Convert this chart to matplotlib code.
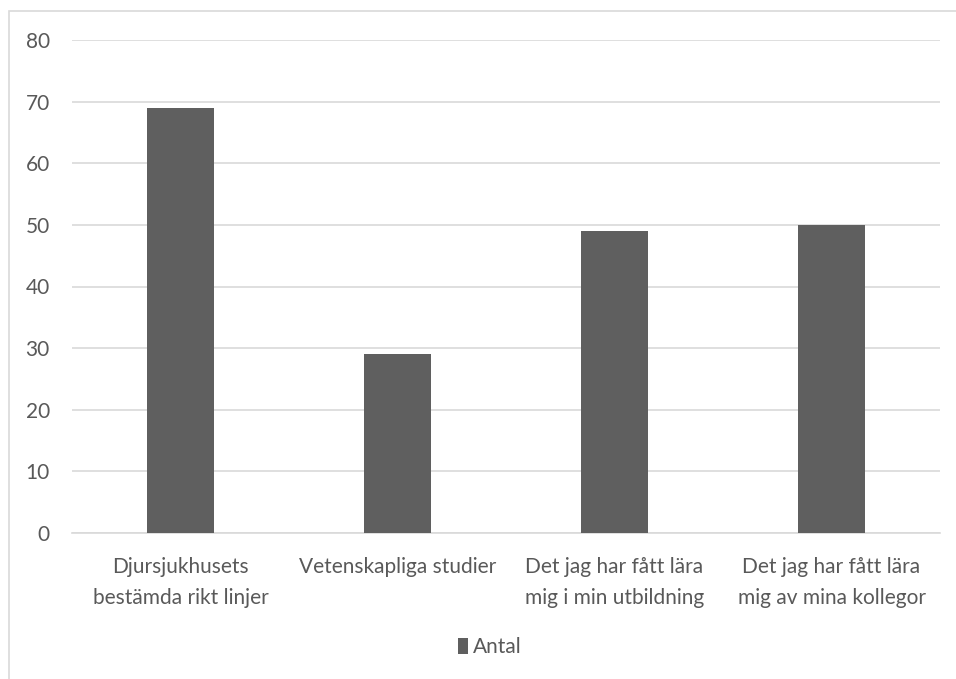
import matplotlib.pyplot as plt
from matplotlib.patches import Rectangle

kategorier = ["Djursjukhusets\nbestämda rikt linjer",
              "Vetenskapliga studier",
              "Det jag har fått lära\nmig i min utbildning",
              "Det jag har fått lära\nmig av mina kollegor"]
antal = [69, 29, 49, 50]
yticks = [0, 10, 20, 30, 40, 50, 60, 70, 80]

plt.rcParams['font.family'] = ['Lato', 'DejaVu Sans']

fig = plt.figure(figsize=(9.56, 6.79), dpi=100)
ax = fig.add_axes([72/956, 146/679, 868/956, 493/679])

x = range(len(kategorier))
ax.bar(x, antal, width=0.31, color="#5f5f5f", label="Antal", zorder=3)

ax.set_ylim(0, 80)
ax.set_xlim(-0.5, 3.5)
ax.set_yticks(yticks)
ax.set_xticks(list(x))
ax.set_xticklabels(kategorier, linespacing=1.7)
ax.grid(axis="y", color="#d9d9d9", linewidth=1.2, zorder=0)
for s in ["top", "right", "left"]:
    ax.spines[s].set_visible(False)
ax.spines["bottom"].set_color("#d9d9d9")
ax.spines["bottom"].set_linewidth(1.2)
ax.tick_params(axis="both", length=0, colors="#595959", labelsize=15)
ax.tick_params(axis="y", pad=16)
ax.tick_params(axis="x", pad=17)

# ram runt hela diagrammet
fig.patches.append(Rectangle((9/956, -0.1), 1.2, (679-11)/679 + 0.1,
                             transform=fig.transFigure, fill=False,
                             edgecolor="#d9d9d9", linewidth=1.2))

fig.legend(loc="center", bbox_to_anchor=(490/956, 1 - 647/679), frameon=False,
           fontsize=15, labelcolor="#595959", handlelength=0.45,
           handleheight=0.8, handletextpad=0.25)

fig.savefig("out.png", dpi=100)
